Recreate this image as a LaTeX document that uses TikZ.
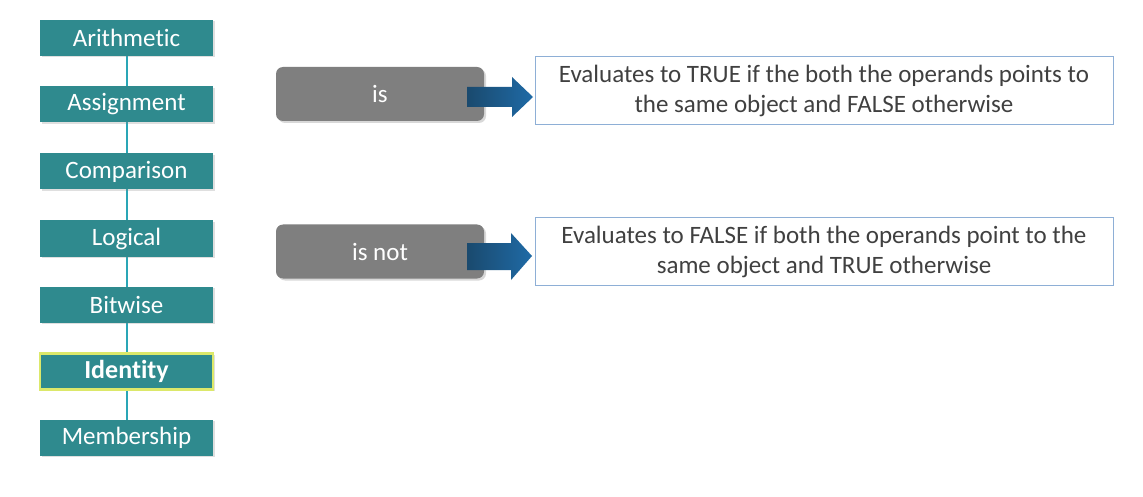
\documentclass[tikz,border=0pt]{standalone}
\usepackage{fontspec}
\setmainfont[Ligatures={NoCommon}]{Carlito}
\usetikzlibrary{shadows}
\definecolor{teal1}{HTML}{2F8A8E}
\definecolor{tealline}{HTML}{2AA6B6}
\definecolor{grayb}{HTML}{7F7F7F}
\definecolor{descborder}{HTML}{8EAFD6}
\definecolor{desctext}{HTML}{404040}
\definecolor{arrL}{HTML}{1A4A6E}
\definecolor{arrR}{HTML}{1F6AA6}
\definecolor{hilite}{HTML}{DCE86A}
\tikzset{
  cat/.style={fill=teal1, text=white, minimum width=173pt, minimum height=36pt, inner sep=0pt,
    font=\fontsize{25}{28}\selectfont, drop shadow={opacity=0.25, shadow xshift=1.5pt, shadow yshift=-1.5pt}},
  opbox/.style={fill=grayb, text=white, rounded corners=7pt, minimum width=208pt, minimum height=54pt,
    inner sep=0pt, font=\fontsize{25}{28}\selectfont, drop shadow={opacity=0.3, shadow xshift=2pt, shadow yshift=-2pt}},
  desc/.style={draw=descborder, line width=1pt, fill=white, text=desctext, minimum width=578pt, minimum height=68pt,
    inner sep=0pt, align=center, font=\fontsize{25}{30}\selectfont},
  link/.style={draw=tealline, line width=2.5pt},
}
\begin{document}
\begin{tikzpicture}[x=1pt,y=-1pt]
\useasboundingbox (0,0) rectangle (1143,497);
\fill[white] (0,0) rectangle (1143,497);
% connectors behind
\coordinate (top) at (127,38);
\coordinate (bot) at (127,437);
\draw[link] (top) -- (bot);
\node[cat] (a1) at (126.5,38) {Arithmetic};
\node[cat] (a2) at (126.5,104.5) {Assignment};
\node[cat] (a3) at (126.5,171.5) {Comparison};
\node[cat] (a4) at (126.5,238.5) {Logical};
\node[cat] (a5) at (126.5,304.5) {Bitwise};
\node[cat, draw=hilite, line width=2.5pt, font=\fontsize{26}{28}\selectfont\bfseries] (a6) at (126.5,371.5) {Identity};
\node[cat] (a7) at (126.5,437.5) {Membership};

\node[opbox] (is) at (380,94) {is};
\node[opbox] (isnot) at (380,251.5) {is not};

\node[desc] (d1) at (824,91) {Evaluates to TRUE if the both the operands points to\\the same object and FALSE otherwise};
\node[desc] (d2) at (824,251.5) {Evaluates to FALSE if both the operands point to the\\same object and TRUE otherwise};

% block arrows
\shade[left color=arrL, right color=arrR]
  (467,87) -- (512,87) -- (512,77) -- (533,97) -- (512,117) -- (512,107) -- (467,107) -- cycle;
\shade[left color=arrL, right color=arrR]
  (467,243) -- (511,243) -- (511,233) -- (532,256) -- (511,280) -- (511,270) -- (467,270) -- cycle;
\end{tikzpicture}
\end{document}
